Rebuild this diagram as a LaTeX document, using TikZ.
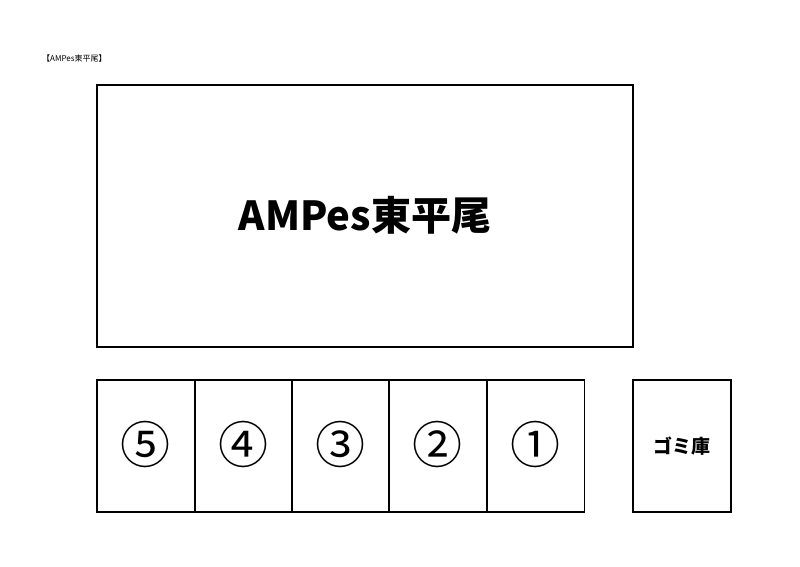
\documentclass[tikz,border=0pt]{standalone}
\usepackage{fontspec}
\setmainfont{Noto Sans CJK JP}
\newfontfamily\jpb{Noto Sans CJK JP}[BoldFont={* Bold}]
\begin{document}
\begin{tikzpicture}[x=1pt,y=-1pt,
  box/.style={draw=black,line width=1.3pt},
  num/.style={font=\fontsize{50}{50}\selectfont,inner sep=0pt}]
\useasboundingbox[fill=white] (0,0) rectangle (800,566);
\node[anchor=west,font=\fontsize{8}{8}\selectfont,inner sep=0pt] (lab) at (42,58) {【AMPes東平尾】};
\draw[box] (97,85) rectangle (633,347);
\node[font=\fontsize{40}{40}\selectfont\bfseries,inner sep=0pt] (title) at (365,215) {AMPes東平尾};
\foreach \x/\n [count=\i] in {97/⑤,195/④,292/③,389/②,487/①}{
  \draw[box] (\x,380) rectangle ++(97.5,132);
  \node[num] (n\i) at (\x+48.5,444) {\n};
}
\draw[box] (633,380) rectangle (731,512);
\node[font=\fontsize{19}{19}\selectfont\bfseries,inner sep=0pt] (gomi) at (682,446) {ゴミ庫};
\end{tikzpicture}
\end{document}
